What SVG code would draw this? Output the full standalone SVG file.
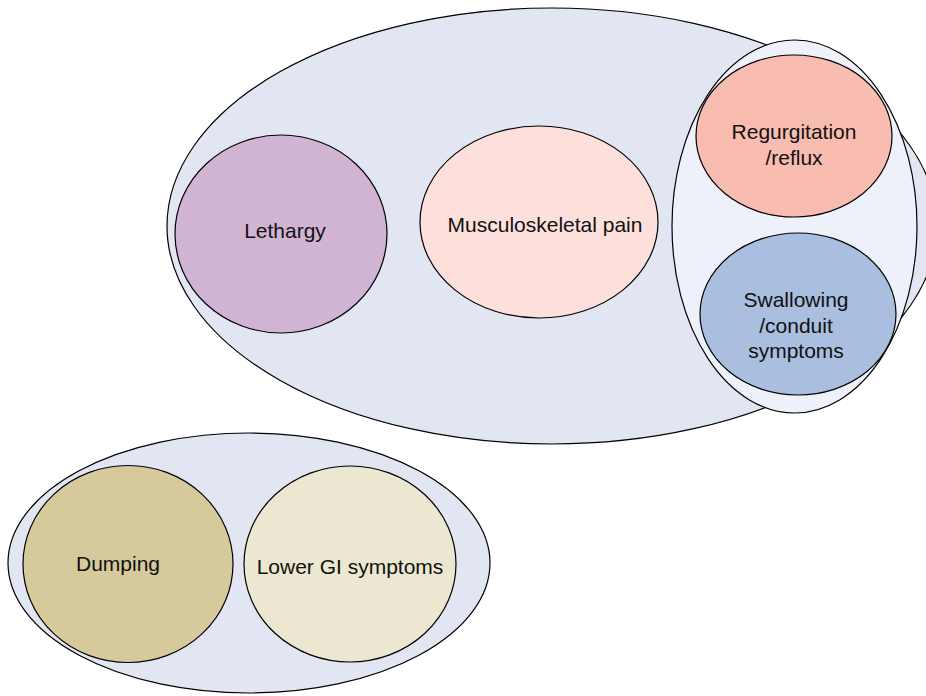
<svg xmlns="http://www.w3.org/2000/svg" width="926" height="696" viewBox="0 0 926 696">
<style>
ellipse{stroke:#000;stroke-width:1.2}
text{font-family:"Liberation Sans",Arial,sans-serif;font-size:21px;fill:#111;text-anchor:middle;dominant-baseline:central}
</style>
<rect width="926" height="696" fill="#fff"/>
<g id="group-upper">
<ellipse cx="552" cy="226" rx="385" ry="218" fill="#e1e6f2"/>
</g>
<g id="group-right">
<ellipse cx="794.5" cy="226.5" rx="122.5" ry="186.5" fill="#eef1f9"/>
</g>
<g id="node-regurgitation">
<ellipse cx="794" cy="136" rx="98" ry="81" fill="#f9bcb0"/>
<text x="794" y="131">Regurgitation</text>
<text x="794" y="157">/reflux</text>
</g>
<g id="node-swallowing">
<ellipse cx="798" cy="314" rx="98" ry="81" fill="#aabee0"/>
<text x="796" y="299">Swallowing</text>
<text x="796" y="325">/conduit</text>
<text x="796" y="350">symptoms</text>
</g>
<g id="node-lethargy">
<ellipse cx="281" cy="234" rx="106" ry="99" fill="#d1b3d3"/>
<text x="285" y="230">Lethargy</text>
</g>
<g id="node-musculoskeletal">
<ellipse cx="539" cy="222" rx="119" ry="96" fill="#fde0dc"/>
<text x="545" y="224">Musculoskeletal pain</text>
</g>
<g id="group-lower">
<ellipse cx="249" cy="563" rx="241" ry="130" fill="#e1e6f2"/>
</g>
<g id="node-dumping">
<ellipse cx="128" cy="564" rx="105" ry="98.5" fill="#d6ca9c"/>
<text x="118" y="563">Dumping</text>
</g>
<g id="node-lowergi">
<ellipse cx="350" cy="564" rx="106" ry="98" fill="#ece7d0"/>
<text x="350" y="566">Lower GI symptoms</text>
</g>
<g id="connectors"/>
</svg>
